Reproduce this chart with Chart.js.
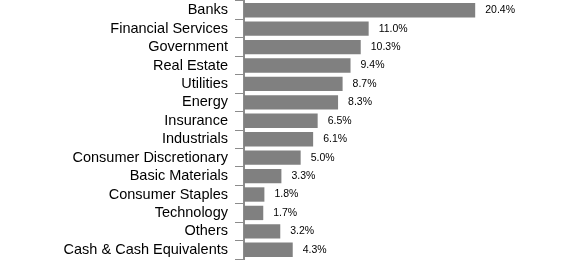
<!DOCTYPE html>
<html>
<head>
<meta charset="utf-8">
<script src="https://cdn.jsdelivr.net/npm/chart.js@4.4.0/dist/chart.umd.min.js"></script>
<style>
    html, body { margin: 0; padding: 0; background: #ffffff; }
    #wrap { width: 584px; height: 271px; position: relative; }
</style>
</head>
<body>
<div id="wrap"><canvas id="sectorChart"></canvas></div>
<script>
// Sector allocation data
const categories = [
    'Banks', 'Financial Services', 'Government', 'Real Estate', 'Utilities',
    'Energy', 'Insurance', 'Industrials', 'Consumer Discretionary', 'Basic Materials',
    'Consumer Staples', 'Technology', 'Others', 'Cash & Cash Equivalents'
];
const weights = [20.4, 11.0, 10.3, 9.4, 8.7, 8.3, 6.5, 6.1, 5.0, 3.3, 1.8, 1.7, 3.2, 4.3];

const fontFamily = '"Liberation Sans", Arial, Helvetica, sans-serif';

// Draws the percentage label at the end of each bar
const valueLabels = {
    id: 'valueLabels',
    afterDatasetsDraw(chart) {
        const ctx = chart.ctx;
        const meta = chart.getDatasetMeta(0);
        ctx.save();
        ctx.font = '10.5px ' + fontFamily;
        ctx.fillStyle = '#000000';
        ctx.textAlign = 'left';
        ctx.textBaseline = 'middle';
        meta.data.forEach((bar, i) => {
            ctx.fillText(weights[i].toFixed(1) + '%', bar.x + 10, bar.y);
        });
        ctx.restore();
    }
};

new Chart(document.getElementById('sectorChart'), {
    type: 'bar',
    data: {
        labels: categories,
        datasets: [{
            data: weights,
            backgroundColor: '#808080',
            borderWidth: 0,
            barPercentage: 0.78,
            categoryPercentage: 1.0
        }]
    },
    options: {
        indexAxis: 'y',
        responsive: true,
        maintainAspectRatio: false,
        animation: false,
        layout: {
            padding: { top: 1, bottom: 12, left: 0, right: 0 }
        },
        scales: {
            x: {
                display: false,
                min: 0,
                max: 30
            },
            y: {
                afterFit(scale) {
                    scale.width = 244;
                    scale.paddingTop = 0;
                    scale.paddingBottom = 0;
                },
                grid: {
                    drawOnChartArea: false,
                    drawTicks: true,
                    tickLength: 9,
                    color: '#8c8c8c',
                    lineWidth: 1
                },
                border: {
                    display: true,
                    color: '#8c8c8c',
                    width: 2
                },
                ticks: {
                    autoSkip: false,
                    padding: 7,
                    color: '#000000',
                    font: { size: 14.5, family: fontFamily }
                }
            }
        },
        plugins: {
            legend: { display: false },
            tooltip: { enabled: false }
        }
    },
    plugins: [valueLabels]
});
</script>
</body>
</html>
